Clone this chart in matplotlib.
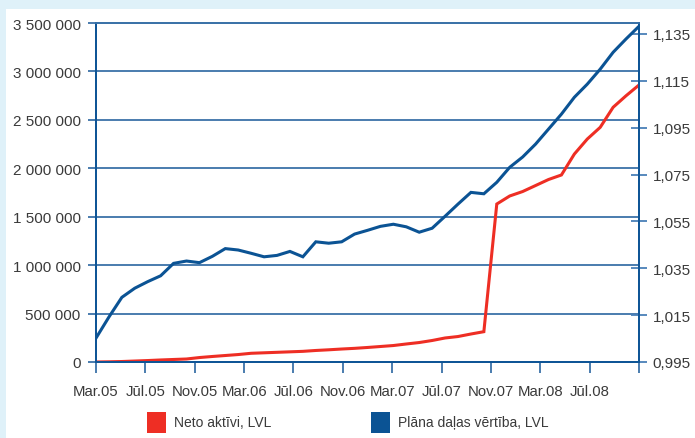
import matplotlib
matplotlib.use("Agg")
import matplotlib.pyplot as plt
from matplotlib.patches import Rectangle
from matplotlib.ticker import FuncFormatter, FixedLocator
import numpy as np

# ---- data ----
tick_labels = ["Mar.05", "Jūl.05", "Nov.05", "Mar.06", "Jūl.06", "Nov.06",
               "Mar.07", "Jūl.07", "Nov.07", "Mar.08", "Jūl.08", ""]

neto_aktivi = [0, 2000, 5000, 10000, 15000, 21000, 26000, 31000, 46000, 57000,
               67000, 77000, 90000, 95000, 100000, 105000, 110000, 119000, 126000,
               134000, 141000, 150000, 160000, 170000, 186000, 201000, 222000,
               248000, 263000, 289000, 313000, 1631000, 1714000, 1760000, 1822000,
               1884000, 1931000, 2147000, 2302000, 2423000, 2630000, 2749000, 2860000]

dalas_vertiba = [1.0052, 1.0142, 1.0226, 1.0265, 1.0293, 1.0318, 1.0371, 1.0381,
                 1.0374, 1.0401, 1.0434, 1.0428, 1.0414, 1.0399, 1.0405, 1.0422,
                 1.0399, 1.0463, 1.0457, 1.0463, 1.0496, 1.0512, 1.0529, 1.0538,
                 1.0527, 1.0504, 1.0521, 1.0572, 1.0624, 1.0674, 1.0668, 1.0717,
                 1.0781, 1.0825, 1.0880, 1.0944, 1.1008, 1.1080, 1.1136, 1.1200,
                 1.1272, 1.1329, 1.1383]

left_ticks = [0, 500000, 1000000, 1500000, 2000000, 2500000, 3000000, 3500000]
right_ticks = [0.995, 1.015, 1.035, 1.055, 1.075, 1.095, 1.115, 1.135]

legend_labels = ["Neto aktīvi, LVL", "Plāna daļas vērtība, LVL"]

# ---- style ----
RED = "#ee2e24"
BLUE = "#0b5394"
AXBLUE = "#0f5596"
GRID = "#3b72a8"
TXT = "#3a3a3a"
BG = "#dff1f9"
FONT = ["Liberation Sans", "DejaVu Sans"]
plt.rcParams["font.family"] = FONT

W, H = 695, 439
fig = plt.figure(figsize=(W / 100, H / 100), dpi=100, facecolor=BG)
fig.add_artist(Rectangle((6 / W, 0), 1 - 6 / W, (H - 10) / H,
                         transform=fig.transFigure, facecolor="white",
                         edgecolor="none", zorder=0))

L, R, T, B = 96, 639, 24, 363
ax = fig.add_axes([L / W, (H - B) / H, (R - L) / W, (B - T) / H])
ax.set_facecolor("none")
ax2 = ax.twinx()

n = len(neto_aktivi)
x = np.arange(n)

ax.plot(x, neto_aktivi, color=RED, lw=2.2, solid_joinstyle="miter", zorder=3)
ax2.plot(x, dalas_vertiba, color=BLUE, lw=2.2, solid_joinstyle="miter", zorder=3)

ax.set_xlim(0, n - 1)
ax.set_ylim(0, 3500000)
ax2.set_ylim(0.995, 0.995 + (B - T) / 328 * 0.14)

# x ticks
xt = np.linspace(0, n - 1, len(tick_labels))
ax.xaxis.set_major_locator(FixedLocator(xt))
ax.set_xticklabels(tick_labels)
ax.tick_params(axis="x", direction="out", length=8, width=1.3, color=GRID,
               pad=8, labelsize=10.7, labelcolor=TXT)

# left y
ax.set_yticks(left_ticks)
ax.yaxis.set_major_formatter(FuncFormatter(lambda v, p: f"{int(round(v)):,}".replace(",", " ")))
ax.tick_params(axis="y", direction="out", length=6, width=1.3, color=GRID,
               pad=5, labelsize=11, labelcolor=TXT)
ax.grid(axis="y", color=GRID, lw=1.3)
ax.set_axisbelow(True)

# right y
ax2.set_yticks(right_ticks)
ax2.yaxis.set_major_formatter(FuncFormatter(lambda v, p: f"{v:.3f}".replace(".", ",")))
ax2.tick_params(axis="y", direction="inout", length=11.5, width=1.3, color="#4a80b8",
                pad=4, labelsize=11, labelcolor=TXT)

for a in (ax, ax2):
    for s in a.spines.values():
        s.set_color(AXBLUE)
        s.set_linewidth(1.4)
    a.spines["top"].set_color(GRID)
    a.spines["top"].set_linewidth(1.3)

# legend (manual)
sq = 19
for (x0, col), lab in zip([(147, RED), (371, BLUE)], legend_labels):
    fig.add_artist(Rectangle((x0 / W, (H - 434) / H), sq / W, 21 / H,
                             transform=fig.transFigure, facecolor=col,
                             edgecolor="none"))
    fig.text((x0 + 27) / W, (H - 423.5) / H, lab, fontsize=10, color=TXT,
             va="center", ha="left")

fig.savefig("out.png", dpi=100, facecolor=BG)
